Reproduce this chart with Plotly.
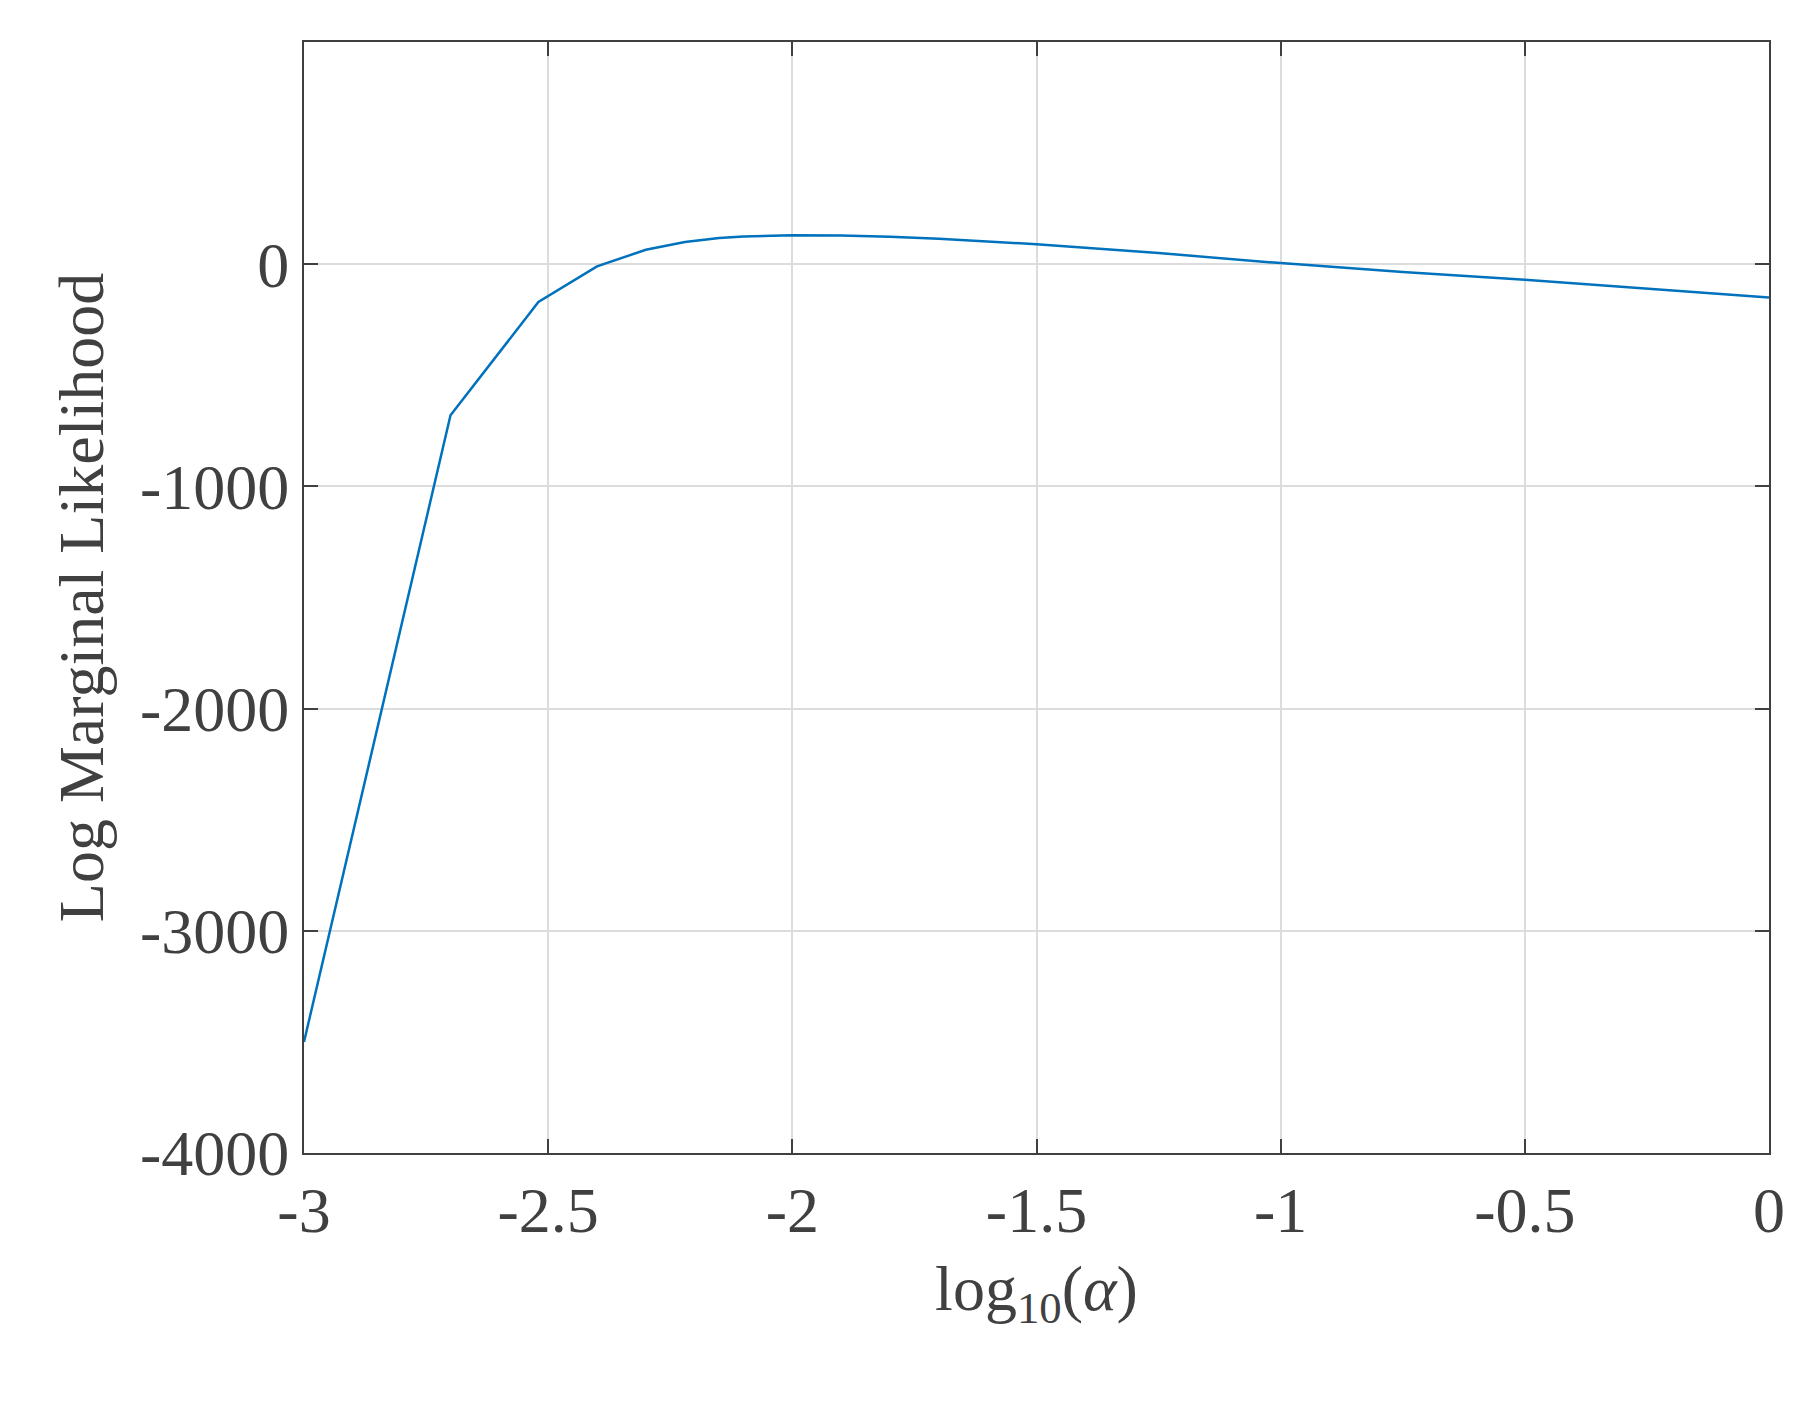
import plotly.graph_objects as go

x_vals = [-3, -2.7, -2.52, -2.4, -2.3, -2.22, -2.15, -2.1, -2.0, -1.9, -1.8, -1.7, -1.5, -1.25, -1.0, -0.75, -0.5, -0.25, 0]
y_vals = [-3500, -680, -170, -10, 65, 100, 118, 125, 130, 129, 124, 115, 90, 50, 5, -35, -70, -110, -150]

fig = go.Figure(go.Scatter(x=x_vals, y=y_vals, mode="lines",
                           line=dict(color="#0072BD", width=2.5)))
font = dict(family="Liberation Serif, Times New Roman, serif", size=64, color="#404040")
ax = dict(showline=True, mirror="ticks", linecolor="#404040", linewidth=2,
          ticks="inside", ticklen=14, tickcolor="#404040", tickwidth=2,
          showgrid=True, gridcolor="#dcdcdc", gridwidth=2, zeroline=False,
          tickfont=font)
fig.update_xaxes(range=[-3, 0], tickvals=[-3, -2.5, -2, -1.5, -1, -0.5, 0],
                 ticktext=["-3", "-2.5", "-2", "-1.5", "-1", "-0.5", "0"],
                 title=dict(text="log<sub>10</sub>(<i>α</i>)", font=font, standoff=20), **ax)
fig.update_yaxes(range=[-4000, 1000], tickvals=[-4000, -3000, -2000, -1000, 0, 1000],
                 ticktext=["-4000", "-3000", "-2000", "-1000", "0", "1000"],
                 title=dict(text="Log Marginal Likelihood", font=font, standoff=15), **ax)
fig.update_layout(width=1819, height=1404, plot_bgcolor="white", paper_bgcolor="white",
                  margin=dict(l=296, r=58, t=34, b=259), showlegend=False)
fig.write_html("out.html")
